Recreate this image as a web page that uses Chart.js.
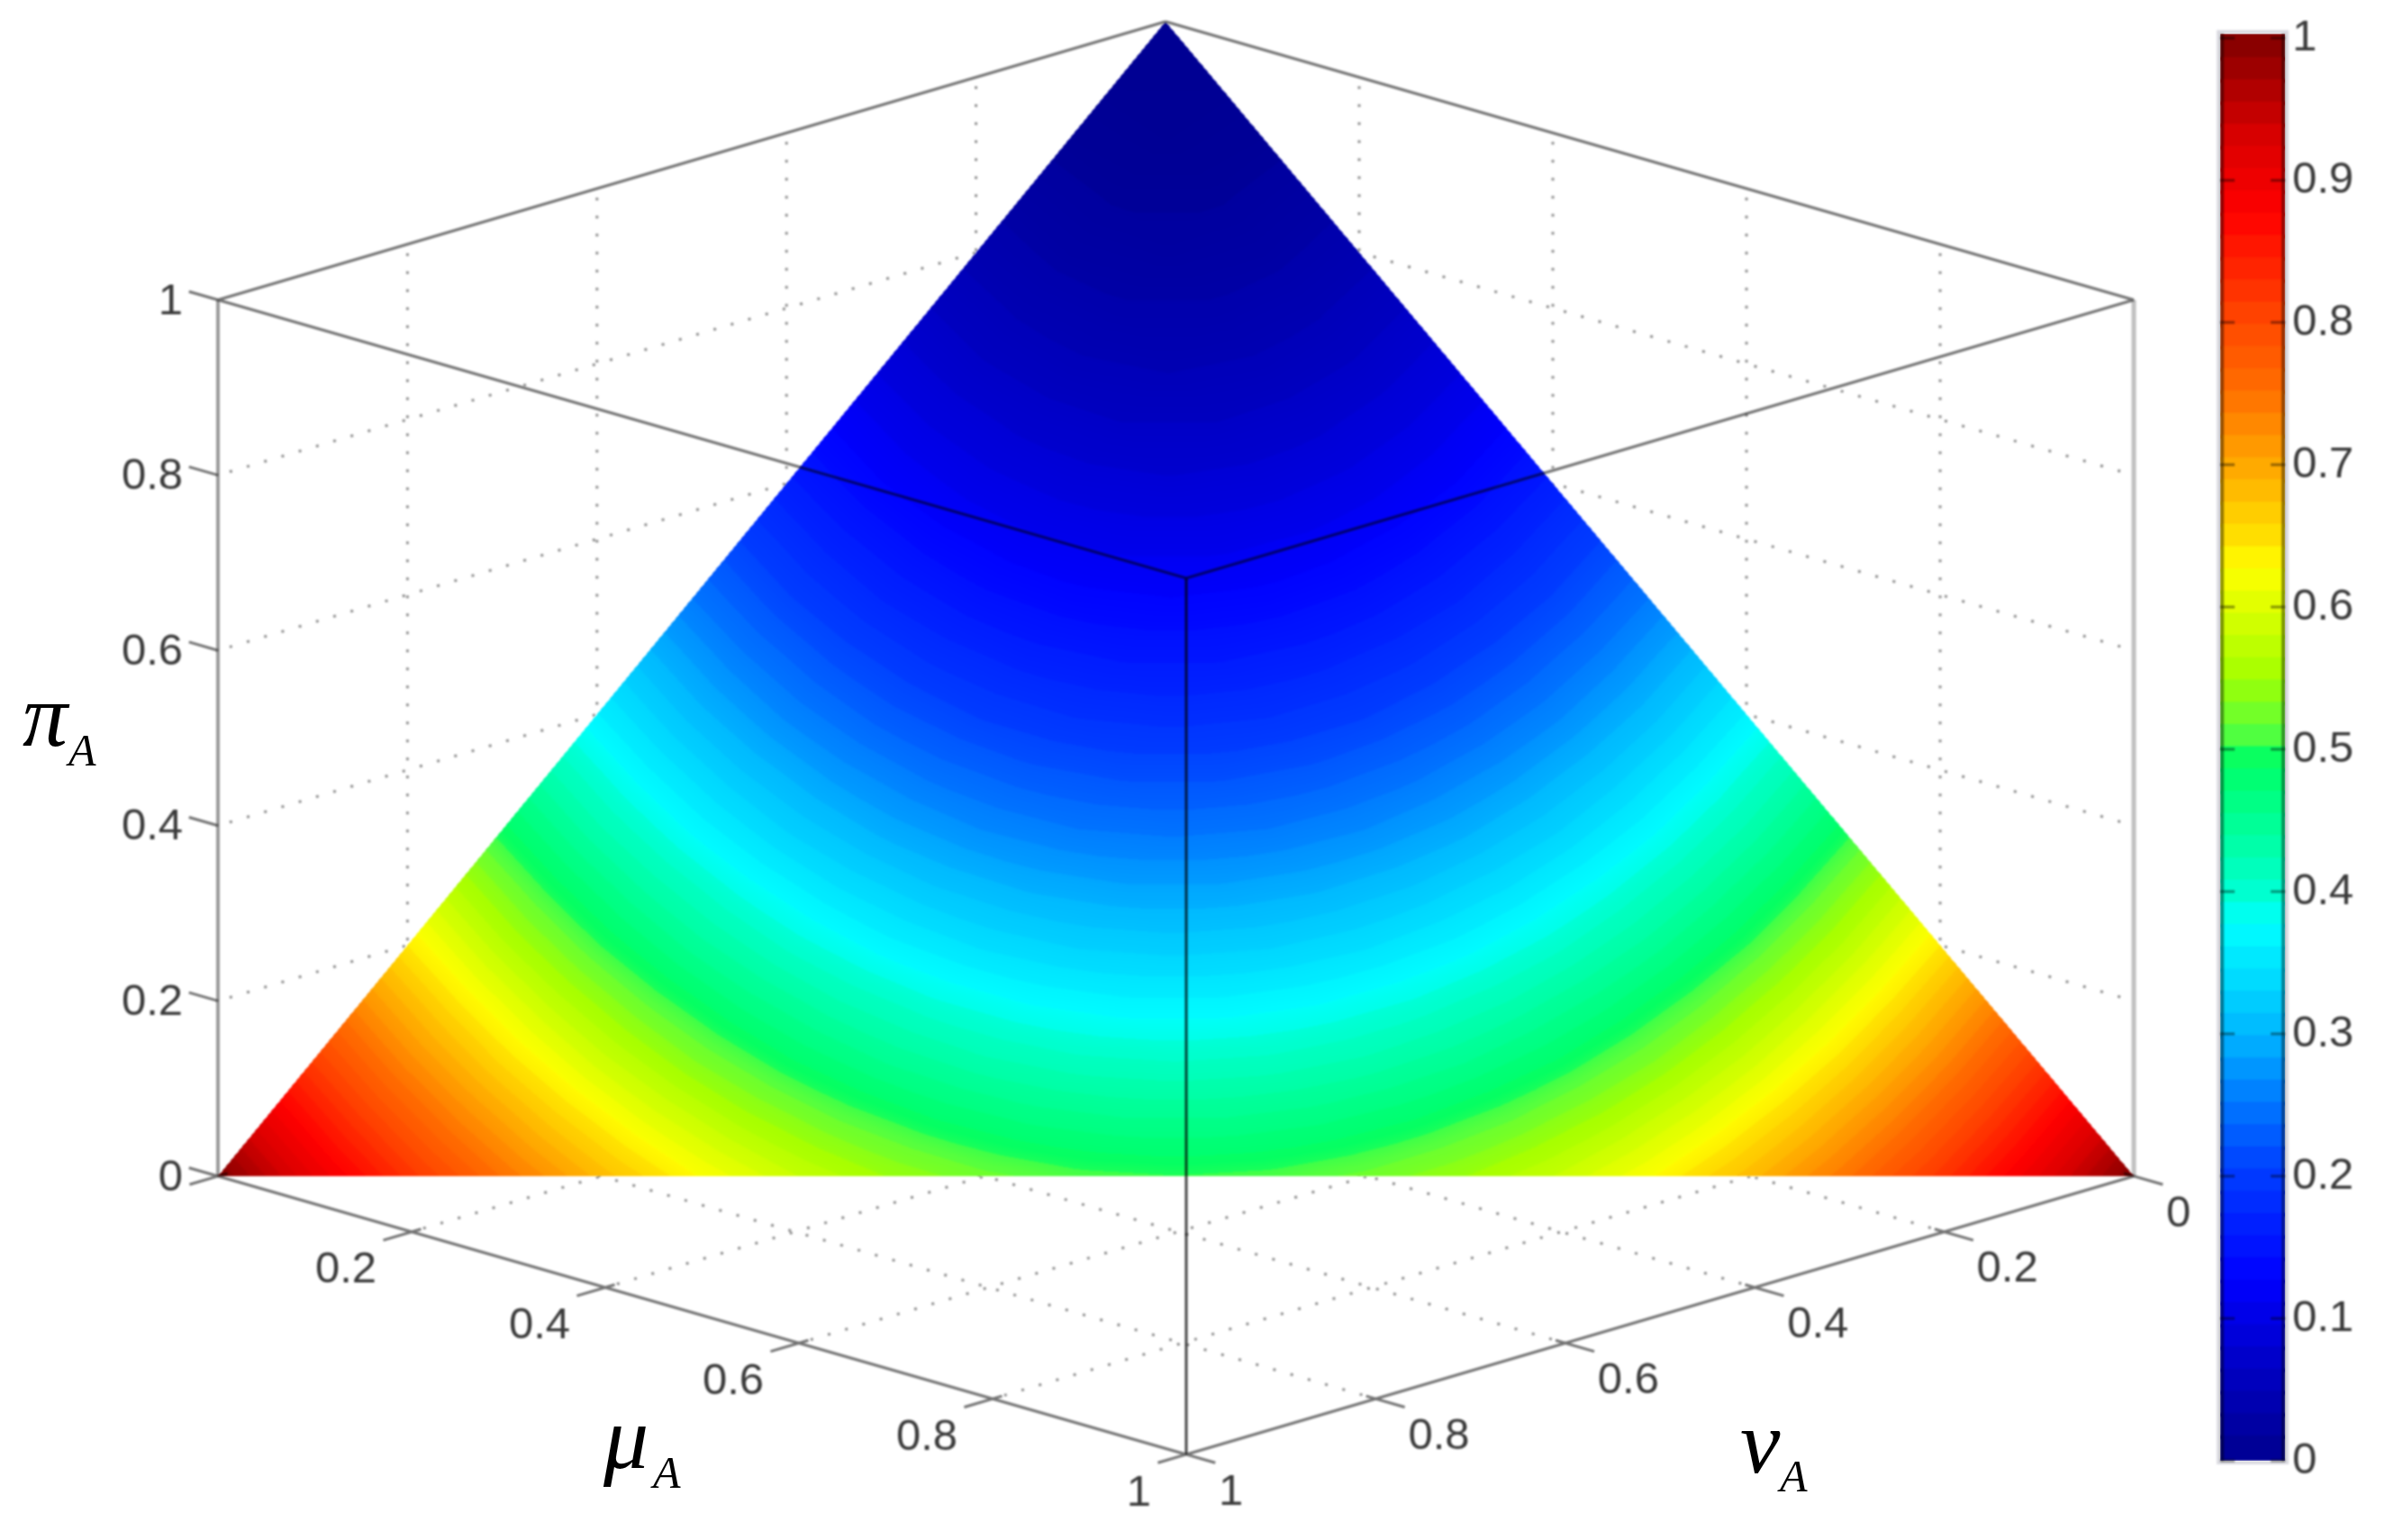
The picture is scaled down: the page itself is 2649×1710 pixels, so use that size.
<!DOCTYPE html>
<html>
<head>
<meta charset="utf-8">
<title>Surface over mu, nu, pi</title>
<script src="https://cdn.jsdelivr.net/npm/chart.js@4"></script>
<style>
    html, body { margin: 0; padding: 0; background: #fff; }
    #wrap { position: relative; width: 2649px; height: 1710px; overflow: hidden; }
    canvas { position: absolute; top: 0; }
</style>
</head>
<body>
<div id="wrap">
    <canvas id="surface" width="2649" height="1710" style="left:0"></canvas>
    <canvas id="bar" width="209" height="1710" style="left:2440px"></canvas>
</div>
<script>
// axis values
const axisTicks = [0, 0.2, 0.4, 0.6, 0.8, 1];
const axisLabels = ['0', '0.2', '0.4', '0.6', '0.8', '1'];
const gridTicks = [0.2, 0.4, 0.6, 0.8];
const colorbarTicks = [0, 0.1, 0.2, 0.3, 0.4, 0.5, 0.6, 0.7, 0.8, 0.9, 1];

// colours
const colormapStops = [0, .0625, .125, .2, .25, .3, .375, .4, .45, .49, .51, .55, .6, .625, .65, .7, .75, .8, .875, .93, 1];
const colormapColors = [
    [0,0,143], [0,0,195], [0,0,255], [0,60,255], [0,120,255], [0,185,255], [0,255,255],
    [0,255,205], [0,255,145], [0,255,100], [90,255,60], [165,255,0], [225,255,0], [255,255,0],
    [255,220,0], [255,165,0], [255,110,0], [255,70,0], [255,0,0], [215,0,0], [128,0,0]
];

// surface colour value, one row per mu (0 to 1 in 0.05 steps),
// one entry per nu, only where mu + nu <= 1
const surfaceStep = 0.05;
const surfaceValues = [
    [0,.003,.01,.023,.04,.063,.09,.123,.16,.203,.25,.303,.36,.423,.49,.563,.64,.723,.81,.903,1],
    [.003,.005,.013,.025,.043,.065,.093,.125,.163,.205,.253,.305,.363,.425,.493,.565,.643,.725,.813,.905],
    [.01,.013,.02,.033,.05,.073,.1,.133,.17,.213,.26,.313,.37,.433,.5,.573,.65,.733,.82],
    [.023,.025,.033,.045,.063,.085,.113,.145,.183,.225,.273,.325,.383,.445,.513,.585,.663,.745],
    [.04,.043,.05,.063,.08,.103,.13,.163,.2,.243,.29,.343,.4,.463,.53,.603,.68],
    [.063,.065,.073,.085,.103,.125,.153,.185,.223,.265,.313,.365,.423,.485,.553,.625],
    [.09,.093,.1,.113,.13,.153,.18,.213,.25,.293,.34,.393,.45,.513,.58],
    [.123,.125,.133,.145,.163,.185,.213,.245,.283,.325,.373,.425,.483,.545],
    [.16,.163,.17,.183,.2,.223,.25,.283,.32,.363,.41,.463,.52],
    [.203,.205,.213,.225,.243,.265,.293,.325,.363,.405,.453,.505],
    [.25,.253,.26,.273,.29,.313,.34,.373,.41,.453,.5],
    [.303,.305,.313,.325,.343,.365,.393,.425,.463,.505],
    [.36,.363,.37,.383,.4,.423,.45,.483,.52],
    [.423,.425,.433,.445,.463,.485,.513,.545],
    [.49,.493,.5,.513,.53,.553,.58],
    [.563,.565,.573,.585,.603,.625],
    [.64,.643,.65,.663,.68],
    [.723,.725,.733,.745],
    [.81,.813,.82],
    [.903,.905],
    [1]
];

// matlab style view of the box
const view = { x0: 1294, y0: 997, muX: 1075, muY: 309, nuX: -1052, nuY: 309, piY: -973 };
function project(mu, nu, pi) {
    return {
        x: view.x0 + mu * view.muX + nu * view.nuX,
        y: view.y0 + mu * view.muY + nu * view.nuY + pi * view.piY
    };
}

function colorAt(v) {
    let k = 1;
    while (k < colormapStops.length - 1 && v > colormapStops[k]) k++;
    const f = Math.max(0, Math.min(1, (v - colormapStops[k - 1]) / (colormapStops[k] - colormapStops[k - 1])));
    return colormapColors[k].map((c, i) => colormapColors[k - 1][i] + f * (c - colormapColors[k - 1][i]));
}

// the 64 colormap levels
function bandColor(v) {
    const idx = Math.max(0, Math.min(63, Math.floor(v * 64)));
    return colorAt((idx + 0.5) / 64);
}

// surface shading: half smooth, half banded, the bands are only faint in the picture
const shadeTable = [];
for (let i = 0; i <= 1024; i++) {
    const smooth = colorAt(i / 1024), band = bandColor(i / 1024);
    shadeTable.push(smooth.map((c, k) => Math.round((c + band[k]) / 2)));
}

const gap = { x: NaN, y: NaN };
function segments(list) {
    const out = [];
    list.forEach(s => { out.push(project(...s[0]), project(...s[1]), gap); });
    return out;
}

const gridSegments = [];
gridTicks.forEach(t => {
    gridSegments.push([[t, 0, 0], [t, 1, 0]], [[0, t, 0], [1, t, 0]]);      // floor
    gridSegments.push([[0, t, 0], [0, t, 1]], [[t, 0, 0], [t, 0, 1]]);      // back walls, verticals
    gridSegments.push([[0, 0, t], [0, 1, t]], [[0, 0, t], [1, 0, t]]);      // back walls, horizontals
});

const boxSegments = [
    [[0, 0, 1], [0, 1, 1]], [[0, 0, 1], [1, 0, 1]],
    [[0, 1, 1], [1, 1, 1]], [[1, 0, 1], [1, 1, 1]],
    [[0, 1, 0], [1, 1, 0]], [[1, 0, 0], [1, 1, 0]]
];
axisTicks.forEach(t => {
    boxSegments.push([[-0.03, 1, t], [0, 1, t]]);
    boxSegments.push([[t, 1.03, 0], [t, 0.99, 0]]);
    boxSegments.push([[1.03, t, 0], [0.99, t, 0]]);
});

function drawSurface(chart) {
    const xs = chart.scales.x, ys = chart.scales.y;
    const a = project(0, 0, 1), m = project(1, 0, 0), n = project(0, 1, 0);
    const left = Math.floor(xs.getPixelForValue(n.x)), right = Math.ceil(xs.getPixelForValue(m.x));
    const top = Math.floor(ys.getPixelForValue(a.y)), bottom = Math.ceil(ys.getPixelForValue(m.y));
    const w = right - left + 1, h = bottom - top + 1;
    const off = document.createElement('canvas');
    off.width = w; off.height = h;
    const octx = off.getContext('2d');
    const img = octx.createImageData(w, h);
    const ax = m.x - a.x, ay = m.y - a.y, bx = n.x - a.x, by = n.y - a.y;
    const det = ax * by - ay * bx;
    const last = surfaceValues.length - 1;
    for (let py = 0; py < h; py++) {
        for (let px = 0; px < w; px++) {
            const dx = xs.getValueForPixel(left + px + 0.5) - a.x;
            const dy = ys.getValueForPixel(top + py + 0.5) - a.y;
            const mu = (dx * by - dy * bx) / det;
            const nu = (ax * dy - ay * dx) / det;
            if (mu < 0 || nu < 0 || mu + nu > 1) continue;
            const fi = mu / surfaceStep, fj = nu / surfaceStep;
            const i = Math.min(last, Math.floor(fi)), j = Math.min(last - i, Math.floor(fj));
            const ri = fi - i, rj = fj - j;
            const v00 = surfaceValues[i][j];
            let v;
            if (ri + rj <= 1 || i + j >= last) {
                const v10 = i < last ? surfaceValues[i + 1][j] ?? v00 : v00;
                const v01 = surfaceValues[i][j + 1] ?? v00;
                v = v00 + ri * (v10 - v00) + rj * (v01 - v00);
            } else {
                const v11 = surfaceValues[i + 1][j + 1], v10 = surfaceValues[i + 1][j], v01 = surfaceValues[i][j + 1];
                v = v11 + (1 - ri) * (v01 - v11) + (1 - rj) * (v10 - v11);
            }
            const col = shadeTable[Math.max(0, Math.min(1024, Math.round(v * 1024)))];
            const k = (py * w + px) * 4;
            img.data[k] = col[0]; img.data[k + 1] = col[1]; img.data[k + 2] = col[2]; img.data[k + 3] = 255;
        }
    }
    octx.putImageData(img, 0, 0);
    chart.ctx.drawImage(off, left, top);
}

const softEdge = 'blur(1.1px)';

function tickLabel(chart, text, point, dx, dy, align) {
    const ctx = chart.ctx;
    ctx.textAlign = align;
    ctx.fillText(text, chart.scales.x.getPixelForValue(point.x) + dx, chart.scales.y.getPixelForValue(point.y) + dy);
}

const surfacePlugin = {
    id: 'surfacePlugin',
    beforeDraw(chart) { chart.ctx.filter = softEdge; },
    afterDatasetDraw(chart, args) {
        if (args.meta.label === 'surface') drawSurface(chart);
    },
    afterDatasetsDraw(chart) {
        const ctx = chart.ctx;
        ctx.save();
        ctx.font = '49px "Liberation Sans"';
        ctx.fillStyle = '#3a3a3a';
        ctx.textBaseline = 'middle';
        axisTicks.forEach((t, i) => {
            tickLabel(chart, axisLabels[i], project(0, 1, t), -39, 2, 'right');
            if (i > 0) tickLabel(chart, axisLabels[i], project(t, 1, 0), -39, 43, 'right');
            tickLabel(chart, axisLabels[i], project(1, t, 0), 36, 42, 'left');
        });
        ctx.restore();
    },
    afterDraw(chart) {
        const ctx = chart.ctx;
        ctx.filter = 'none';
        ctx.save();
        ctx.fillStyle = '#000';
        ctx.textBaseline = 'alphabetic';
        ctx.textAlign = 'left';
        [['π', 25, 828, 'A', 76, 850], ['μ', 670, 1630, 'A', 725, 1652], ['ν', 1932, 1635, 'A', 1976, 1656]].forEach(t => {
            ctx.font = 'italic 100px "Liberation Serif"';
            ctx.fillText(t[0], t[1], t[2]);
            ctx.font = 'italic 50px "Liberation Serif"';
            ctx.fillText(t[3], t[4], t[5]);
        });
        ctx.restore();
    }
};

new Chart(document.getElementById('surface'), {
    type: 'scatter',
    data: {
        datasets: [
            {   // front box edges, on top of the surface
                label: 'front vertical',
                data: segments([[[1, 1, 0], [1, 1, 1]]]),
                showLine: true, pointRadius: 0, borderColor: 'rgba(0,0,0,0.72)', borderWidth: 3
            },
            {
                label: 'box',
                data: segments(boxSegments),
                showLine: true, pointRadius: 0, borderColor: 'rgba(0,0,0,0.55)', borderWidth: 3
            },
            {
                label: 'surface',
                data: [project(0, 0, 1), project(1, 0, 0), project(0, 1, 0)],
                showLine: false, pointRadius: 0
            },
            {
                label: 'side verticals',
                data: segments([[[0, 1, 0], [0, 1, 1]]]),
                showLine: true, pointRadius: 0, borderColor: '#9a9a9a', borderWidth: 4
            },
            {
                label: 'side verticals right',
                data: segments([[[1, 0, 0], [1, 0, 1]]]),
                showLine: true, pointRadius: 0, borderColor: '#c0c0c0', borderWidth: 5
            },
            {
                label: 'grid',
                data: segments(gridSegments),
                showLine: true, pointRadius: 0, borderColor: '#8e8e8e', borderWidth: 3,
                borderDash: [3, 17]
            }
        ]
    },
    options: {
        responsive: false,
        animation: false,
        layout: { padding: 0 },
        plugins: { legend: { display: false }, tooltip: { enabled: false } },
        scales: {
            x: { type: 'linear', min: 0, max: 2649, display: false },
            y: { type: 'linear', min: 0, max: 1710, reverse: true, display: false }
        }
    },
    plugins: [surfacePlugin]
});

// colorbar, one floating bar per colormap level
const colorbarTop = 1.003;
const colorbarLevels = Array.from({ length: 64 }, (_, k) => k);
const colorbarFrame = {
    id: 'colorbarFrame',
    beforeDraw(chart) { chart.ctx.filter = softEdge; },
    afterDatasetsDraw(chart) {
        const ctx = chart.ctx, area = chart.chartArea;
        ctx.save();
        ctx.strokeStyle = 'rgba(150,150,170,0.35)';
        ctx.lineWidth = 4;
        ctx.strokeRect(area.left - 2, area.top - 2, area.width + 4, area.height + 4);
        ctx.strokeStyle = 'rgba(0,0,0,0.42)';
        ctx.lineWidth = 4;
        ctx.beginPath();
        ctx.moveTo(area.left + 2, area.top); ctx.lineTo(area.left + 2, area.bottom);
        ctx.moveTo(area.right - 2, area.top); ctx.lineTo(area.right - 2, area.bottom);
        ctx.stroke();
        ctx.lineWidth = 3;
        colorbarTicks.forEach(t => {
            const y = chart.scales.y.getPixelForValue(t);
            ctx.beginPath();
            ctx.moveTo(area.left, y); ctx.lineTo(area.left + 16, y);
            ctx.moveTo(area.right - 16, y); ctx.lineTo(area.right, y);
            ctx.stroke();
        });
        ctx.restore();
    },
    afterDraw(chart) { chart.ctx.filter = 'none'; }
};

new Chart(document.getElementById('bar'), {
    type: 'bar',
    data: {
        labels: ['value'],
        datasets: colorbarLevels.map(k => {
            const c = bandColor((k + 0.5) / 64).map(Math.round);
            return {
                data: [[k / 64, k === 63 ? colorbarTop : (k + 1) / 64 + 0.002]],
                backgroundColor: `rgb(${c[0]},${c[1]},${c[2]})`,
                borderWidth: 0,
                barPercentage: 1,
                categoryPercentage: 1,
                grouped: false
            };
        })
    },
    options: {
        responsive: false,
        animation: false,
        layout: { padding: { left: 25, top: 34, bottom: 88, right: 0 } },
        plugins: { legend: { display: false }, tooltip: { enabled: false } },
        scales: {
            x: { display: false },
            y: {
                position: 'right',
                min: 0,
                max: colorbarTop,
                border: { display: false },
                grid: { display: false, drawTicks: false },
                afterFit(scale) { scale.width = 112; },
                afterBuildTicks(scale) { scale.ticks = colorbarTicks.map(v => ({ value: v })); },
                ticks: {
                    padding: 8,
                    autoSkip: false,
                    color: '#3a3a3a',
                    font: { family: '"Liberation Sans"', size: 49 },
                    callback: v => String(v)
                }
            }
        }
    },
    plugins: [colorbarFrame]
});
</script>
</body>
</html>
